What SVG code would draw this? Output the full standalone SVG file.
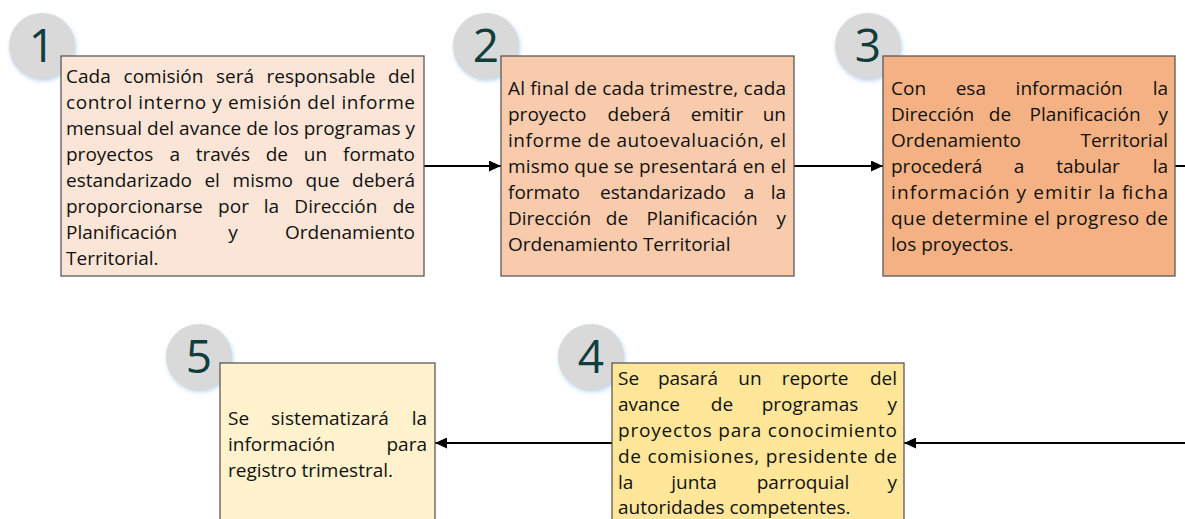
<svg xmlns="http://www.w3.org/2000/svg" width="1185" height="519" viewBox="0 0 1185 519">
<style>
.t{font-family:"Open Sans","Noto Sans",sans-serif;font-size:19px;fill:#111}
.e{text-anchor:end}
.m{text-anchor:middle}
.num{font-family:"Open Sans","Noto Sans",sans-serif;font-size:46px;fill:#113e3d;text-anchor:middle}
.c{fill:#d9d9d9;filter:url(#glow)}
.box{stroke:#595959;stroke-width:1.3}
.conn{fill:none;stroke:#000;stroke-width:2;marker-end:url(#ah)}
</style>
<defs>
<filter id="glow" x="-30%" y="-30%" width="160%" height="160%">
<feDropShadow dx="1" dy="2" stdDeviation="2" flood-color="#9dc3e6" flood-opacity="0.7"/>
</filter>
<marker id="ah" viewBox="0 0 12 11" refX="12" refY="5.5" markerWidth="12" markerHeight="11" markerUnits="userSpaceOnUse" orient="auto">
<path d="M0,0 L12,5.5 L0,11 z" fill="#000"/>
</marker>
</defs>
<rect width="1185" height="519" fill="#fff"/>

<g id="connectors">
<path class="conn" d="M424,166 H501"/>
<path class="conn" d="M794,166 H883"/>
<path class="conn" d="M1175,166 H1200 V443 H904"/>
<path class="conn" d="M612,443 H435"/>
</g>

<g id="node1">
<circle class="c" cx="42" cy="46" r="33"/>
<text class="num" x="42" y="62">1</text>
<rect class="box" x="61" y="56" width="363" height="220" fill="#fbe5d6"/>
<text class="t" x="66" y="83">Cada</text>
<text class="t m" x="163.5" y="83">comisión</text>
<text class="t m" x="235" y="83">será</text>
<text class="t m" x="321" y="83">responsable</text>
<text class="t e" x="415" y="83">del</text>
<text class="t" x="66" y="109" textLength="349" lengthAdjust="spacing">control interno y emisión del informe</text>
<text class="t" x="66" y="135" textLength="349" lengthAdjust="spacing">mensual del avance de los programas y</text>
<text class="t" x="66" y="161">proyectos</text>
<text class="t m" x="174.7" y="161">a</text>
<text class="t m" x="222.9" y="161">través</text>
<text class="t m" x="276.9" y="161">de</text>
<text class="t m" x="315.4" y="161">un</text>
<text class="t e" x="415" y="161">formato</text>
<text class="t" x="66" y="187">estandarizado</text>
<text class="t m" x="212.2" y="187">el</text>
<text class="t m" x="262.8" y="187">mismo</text>
<text class="t m" x="322.6" y="187">que</text>
<text class="t e" x="415" y="187">deberá</text>
<text class="t" x="66" y="213">proporcionarse</text>
<text class="t m" x="233.5" y="213">por</text>
<text class="t m" x="271.5" y="213">la</text>
<text class="t m" x="335.9" y="213">Dirección</text>
<text class="t e" x="415" y="213">de</text>
<text class="t" x="66" y="239">Planificación</text>
<text class="t m" x="233" y="239">y</text>
<text class="t e" x="415" y="239">Ordenamiento</text>
<text class="t" x="66" y="265">Territorial.</text>
</g>

<g id="node2">
<circle class="c" cx="486" cy="46" r="33"/>
<text class="num" x="486" y="62">2</text>
<rect class="box" x="501" y="56" width="293" height="220" fill="#f8cbad"/>
<text class="t" x="508" y="95" textLength="278" lengthAdjust="spacing">Al final de cada trimestre, cada</text>
<text class="t" x="508" y="121">proyecto</text>
<text class="t m" x="639" y="121">deberá</text>
<text class="t m" x="717" y="121">emitir</text>
<text class="t e" x="786" y="121">un</text>
<text class="t" x="508" y="147" textLength="278" lengthAdjust="spacing">informe de autoevaluación, el</text>
<text class="t" x="508" y="173" textLength="278" lengthAdjust="spacing">mismo que se presentará en el</text>
<text class="t" x="508" y="199">formato</text>
<text class="t m" x="663" y="199">estandarizado</text>
<text class="t m" x="749" y="199">a</text>
<text class="t e" x="786" y="199">la</text>
<text class="t" x="508" y="225">Dirección</text>
<text class="t m" x="617" y="225">de</text>
<text class="t m" x="702" y="225">Planificación</text>
<text class="t e" x="786" y="225">y</text>
<text class="t" x="508" y="251">Ordenamiento Territorial</text>
</g>

<g id="node3">
<circle class="c" cx="868" cy="46" r="33"/>
<text class="num" x="868" y="62">3</text>
<rect class="box" x="883" y="56" width="292" height="220" fill="#f4b183"/>
<text class="t" x="891" y="95">Con</text>
<text class="t m" x="970.8" y="95">esa</text>
<text class="t m" x="1069.2" y="95">información</text>
<text class="t e" x="1168" y="95">la</text>
<text class="t" x="891" y="121">Dirección</text>
<text class="t m" x="1000" y="121">de</text>
<text class="t m" x="1085" y="121">Planificación</text>
<text class="t e" x="1168" y="121">y</text>
<text class="t" x="891" y="147">Ordenamiento</text>
<text class="t e" x="1168" y="147">Territorial</text>
<text class="t" x="891" y="173">procederá</text>
<text class="t m" x="1019" y="173">a</text>
<text class="t m" x="1088" y="173">tabular</text>
<text class="t e" x="1168" y="173">la</text>
<text class="t" x="891" y="199" textLength="277" lengthAdjust="spacing">información y emitir la ficha</text>
<text class="t" x="891" y="225" textLength="277" lengthAdjust="spacing">que determine el progreso de</text>
<text class="t" x="891" y="251">los proyectos.</text>
</g>

<g id="node4">
<circle class="c" cx="591" cy="357" r="33"/>
<text class="num" x="591" y="373">4</text>
<rect class="box" x="612" y="363" width="292" height="170" fill="#ffe699"/>
<text class="t" x="618" y="385">Se</text>
<text class="t m" x="688" y="385">pasará</text>
<text class="t m" x="750" y="385">un</text>
<text class="t m" x="815" y="385">reporte</text>
<text class="t e" x="897" y="385">del</text>
<text class="t" x="618" y="411">avance</text>
<text class="t m" x="722" y="411">de</text>
<text class="t m" x="810" y="411">programas</text>
<text class="t e" x="897" y="411">y</text>
<text class="t" x="618" y="437" textLength="279" lengthAdjust="spacing">proyectos para conocimiento</text>
<text class="t" x="618" y="463" textLength="279" lengthAdjust="spacing">de comisiones, presidente de</text>
<text class="t" x="618" y="489">la</text>
<text class="t m" x="694" y="489">junta</text>
<text class="t m" x="803" y="489">parroquial</text>
<text class="t e" x="897" y="489">y</text>
<text class="t" x="618" y="514">autoridades competentes.</text>
</g>

<g id="node5">
<circle class="c" cx="199" cy="357" r="33"/>
<text class="num" x="199" y="373">5</text>
<rect class="box" x="220" y="363" width="215" height="170" fill="#fff2cc"/>
<text class="t" x="228" y="425">Se</text>
<text class="t m" x="330" y="425">sistematizará</text>
<text class="t e" x="427" y="425">la</text>
<text class="t" x="228" y="451">información</text>
<text class="t e" x="427" y="451">para</text>
<text class="t" x="228" y="477">registro trimestral.</text>
</g>
</svg>
